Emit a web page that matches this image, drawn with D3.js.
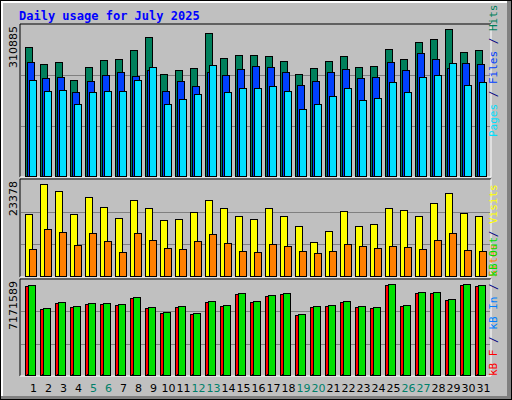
<!DOCTYPE html>
<html><head><meta charset="utf-8">
<script src="https://cdn.jsdelivr.net/npm/d3@7"></script>
<style>body{margin:0;background:#fff}svg{display:block}</style>
</head><body>
<svg id="c" width="512" height="400"></svg>
<script>
const days = d3.range(1,32);
const weekends = [5,6,12,13,19,20,26,27];
const hits  = [266,231,235,198,224,239,241,259,286,210,218,222,294,243,249,249,247,237,210,222,237,247,224,226,261,241,276,282,303,255,259].map(v=>v*1000);
const files = [235,202,204,173,196,208,214,206,218,175,196,185,214,208,220,226,224,214,187,196,214,220,202,204,235,218,253,241,222,233,231].map(v=>v*1000);
const pages = [198,175,177,148,173,175,175,198,224,148,159,169,229,173,181,181,185,175,138,148,165,181,156,161,194,173,204,208,233,187,194].map(v=>v*1000);
const visits = [15755,23378,21600,15755,20075,17535,14740,19310,17280,14230,14485,16260,19310,17280,15245,14485,17280,15245,12705,8640,11435,16515,12705,13215,17280,16770,15245,18550,21090,16010,15245];
const sites  = [6860,11940,11180,7875,10925,8895,6100,10925,9150,7115,6860,8895,10670,8385,6350,6100,8130,7625,6350,5845,6350,8130,7625,7115,7625,7370,6860,9150,10925,6605,6350];
const kbOut = [7069,5256,5729,5414,5650,5650,5572,6123,5335,4941,5414,4862,5808,5493,6439,5808,6281,6439,4784,5414,5493,5808,5414,5335,7171.589,5493,6518,6518,5966,7148,7069].map(v=>v*1000);
const kbF   = [6990,5177,5650,5335,5571,5571,5493,6044,5256,4862,5335,4783,5729,5414,6360,5729,6202,6360,4705,5335,5414,5729,5335,5256,7069,5414,6439,6439,5887,7069,6990].map(v=>v*1000);
const kbIn  = [60,55,58,56,57,57,56,60,56,54,56,54,58,56,60,58,59,60,53,56,56,58,56,56,62,56,60,60,58,62,61].map(v=>v*1000);
const maxTop = 310885, maxMid = 23378, maxBot = 7171589;

const svg = d3.select('#c');
svg.append('rect').attr('x',0).attr('y',0).attr('width',512).attr('height',400).attr('fill','#000');
svg.append('rect').attr('x',1).attr('y',1).attr('width',510).attr('height',398).attr('fill','#808080');
svg.append('rect').attr('x',1).attr('y',1).attr('width',506).attr('height',395).attr('fill','#ffffff');
svg.append('rect').attr('x',3).attr('y',3).attr('width',504).attr('height',393).attr('fill','#c0c0c0');

svg.append('text').attr('x',19).attr('y',20).text('Daily usage for July 2025')
  .attr('font-family','DejaVu Sans Mono').attr('font-weight','bold').attr('font-size',12).attr('fill','#0000ff');

const x = d3.scaleBand().domain(days).range([22,487]).padding(0);
const panels = [
  {y0:24,y1:177,max:maxTop,label:'310885'},
  {y0:179,y1:277,max:maxMid,label:'23378'},
  {y0:279,y1:376,max:maxBot,label:'7171589'}
];
panels.forEach(p=>{
  svg.append('line').attr('x1',20).attr('x2',491).attr('y1',p.y0).attr('y2',p.y0).attr('stroke','#000');
  svg.append('line').attr('x1',20).attr('x2',20).attr('y1',p.y0).attr('y2',p.y1).attr('stroke','#000');
  svg.append('line').attr('x1',20).attr('x2',491).attr('y1',p.y1).attr('y2',p.y1).attr('stroke','#fff');
  svg.append('line').attr('x1',491).attr('x2',491).attr('y1',p.y0).attr('y2',p.y1).attr('stroke','#fff');
  const h = p.y1-p.y0;
  [1/3,2/3].forEach(f=>svg.append('line').attr('x1',21).attr('x2',490)
     .attr('y1',Math.round(p.y1-h*f)+0.5).attr('y2',Math.round(p.y1-h*f)+0.5).attr('stroke','#808080'));
  svg.append('text').attr('transform',`translate(17,${p.y0+2}) rotate(-90)`).attr('text-anchor','end')
    .attr('font-family','DejaVu Sans').attr('font-size',11).attr('fill','#000').text(p.label);
});
const yT = d3.scaleLinear().domain([0,maxTop]).range([176,25]);
const yM = d3.scaleLinear().domain([0,maxMid]).range([276,184]);
const yB = d3.scaleLinear().domain([0,maxBot]).range([375,284]);

function bars(data, y, off, w, fill){
  svg.append('g').selectAll('rect').data(data).join('rect')
    .attr('x',(d,i)=>x(days[i])+off+0.5).attr('y',d=>Math.round(y(d))+0.5)
    .attr('width',w).attr('height',d=>Math.max(1,Math.round(y(0)-y(d))))
    .attr('fill',fill).attr('stroke','#000');
}
bars(hits,yT,3,7,'#00805c');
bars(files,yT,5,7,'#0040ff');
bars(pages,yT,7,7,'#00e0ff');
bars(visits,yM,3,7,'#ffff00');
bars(sites,yM,7,7,'#ff8000');
bars(kbF,yB,3,4,'#ff0000');
bars(kbIn,yB,5,2,'#0080ff');
bars(kbOut,yB,6,7,'#00e000');

svg.append('g').selectAll('text').data(days).join('text')
  .attr('x',d=>x(d)+x.bandwidth()/2+4).attr('y',392).attr('text-anchor','middle')
  .attr('font-family','DejaVu Sans').attr('font-size',11)
  .attr('fill',d=>weekends.includes(d)?'#00806a':'#000').text(d=>d);

function rlabel(yBottom, parts){
  const t = svg.append('text').attr('transform',`translate(497,${yBottom}) rotate(-90)`)
    .attr('font-family','DejaVu Sans Mono').attr('font-size',11);
  parts.forEach(([s,c])=>t.append('tspan').attr('fill',c).text(s));
}
rlabel(137,[['Pages','#00e0ff'],[' / ','#000080'],['Files','#0040ff'],[' / ','#000080'],['Hits','#00805c']]);
rlabel(277,[['Sites','#ff8000'],[' / ','#000080'],['Visits','#ffff00']]);
rlabel(376,[['kB F','#ff0000'],[' / ','#000080'],['kB In','#0080ff'],[' / ','#000080'],['kB Out','#00e000']]);
</script>
</body></html>
